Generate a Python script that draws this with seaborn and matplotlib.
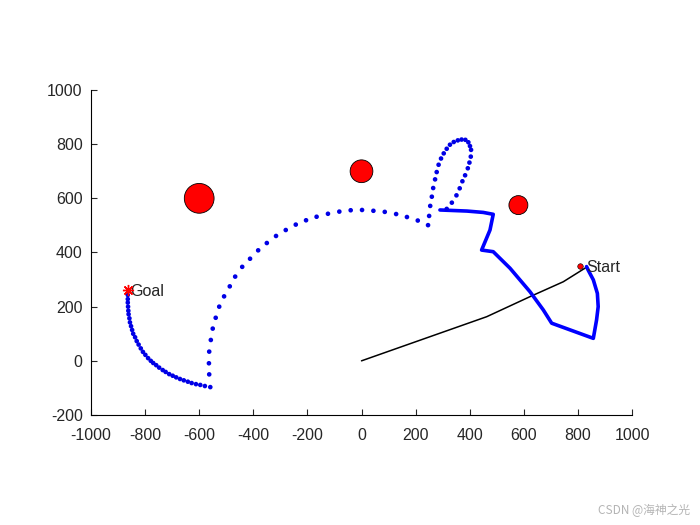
import seaborn as sns
import matplotlib.pyplot as plt
from matplotlib.patches import Circle

sns.set_style('ticks')
plt.rcParams['font.family'] = ['Liberation Sans', 'DejaVu Sans']
plt.rcParams['axes.unicode_minus'] = False

# dotted path: goal -> lower arc -> big arc -> loop
dot_x = [-864, -864, -864, -863, -862, -861, -858, -856, -852, -848,
         -844, -837, -831, -824, -816, -808, -799, -789, -779, -770,
         -759, -748, -735, -724, -711, -698, -685, -671, -657, -642,
         -628, -612, -596, -579, -559,
         -563, -564, -563, -557, -550, -539, -526, -508, -487, -467,
         -441, -412, -382, -350, -316, -280, -243, -205, -166, -124,
         -82, -40, 2, 44, 86, 128, 168, 208, 246,
         250, 254, 260, 265, 272, 278, 285, 294, 304, 315,
         327, 341, 356, 370, 384, 395, 401, 405, 404, 399,
         393, 383, 373, 363, 351, 334, 315]
dot_y = [243, 228, 215, 200, 185, 172, 157, 142, 128, 114,
         100, 87, 73, 60, 46, 33, 22, 10, 0, -8,
         -16, -25, -34, -41, -49, -55, -61, -67, -72, -77,
         -82, -86, -89, -93, -97,
         -50, -9, 34, 77, 119, 159, 200, 238, 275, 311,
         347, 377, 408, 435, 461, 483, 503, 519, 532, 543,
         551, 556, 557, 554, 550, 542, 531, 518, 501,
         535, 572, 606, 638, 670, 697, 724, 747, 766, 783,
         798, 808, 814, 817, 816, 807, 793, 779, 754, 732,
         711, 685, 663, 637, 611, 584, 561]

# thick solid path
path_x = [290, 390, 450, 487, 475, 444, 487, 549, 623, 672, 703,
          857, 869, 875, 872, 857, 838, 832]
path_y = [557, 553, 548, 541, 483, 409, 403, 342, 255, 188, 139,
          83, 151, 200, 249, 299, 335, 348]

# black trajectory
traj_x = [0, 463, 623, 746, 834]
traj_y = [0, 163, 237, 292, 347]

# obstacles
obs_x = [-600, 0, 580]
obs_y = [600, 700, 575]
obs_r = [55, 42, 35]

start_x, start_y = 808, 350
goal_x, goal_y = -864, 262

fig = plt.figure(figsize=(7, 5.25), dpi=100)
ax = fig.add_axes([91 / 700, 110 / 525, 541 / 700, 325 / 525])

for cx, cy, r in zip(obs_x, obs_y, obs_r):
    ax.add_patch(Circle((cx, cy), r, facecolor='red', edgecolor='black', lw=0.6, zorder=2))

sns.lineplot(x=traj_x, y=traj_y, sort=False, estimator=None, color='black', lw=1.1, ax=ax, zorder=3)
sns.lineplot(x=path_x, y=path_y, sort=False, estimator=None, color='blue', lw=2.6, ax=ax, zorder=3)
sns.scatterplot(x=dot_x, y=dot_y, s=11, color='#0000e6', edgecolor='none', linewidth=0, ax=ax, zorder=4)

ax.plot(start_x, start_y, 'o', color='red', mec='black', mew=0.4, ms=4, zorder=5)
ax.plot(goal_x, goal_y, marker=(8, 2, 0), color='red', ms=8, mew=1, zorder=5)
ax.text(830, 343, 'Start', fontsize=11.5, va='center', ha='left')
ax.text(-855, 256, 'Goal', fontsize=11.5, va='center', ha='left')

ax.set_xlim(-1000, 1000)
ax.set_ylim(-200, 1000)
ax.set_xticks(range(-1000, 1001, 200))
ax.set_yticks(range(-200, 1001, 200))
ax.tick_params(direction='in', length=4, width=0.8, labelsize=11.5, labelcolor='#262626')
ax.tick_params(axis='x', pad=9)
ax.tick_params(axis='y', pad=6)
for s in ['left', 'bottom']:
    ax.spines[s].set_linewidth(0.8)
    ax.spines[s].set_color('black')
sns.despine(ax=ax)

fig.text(0.986, 0.016, 'CSDN @海神之光', ha='right', va='bottom', color='#b4b4b4', fontsize=8.5,
         family=['Noto Sans CJK SC', 'DejaVu Sans'])

fig.savefig('out.png', dpi=100)
